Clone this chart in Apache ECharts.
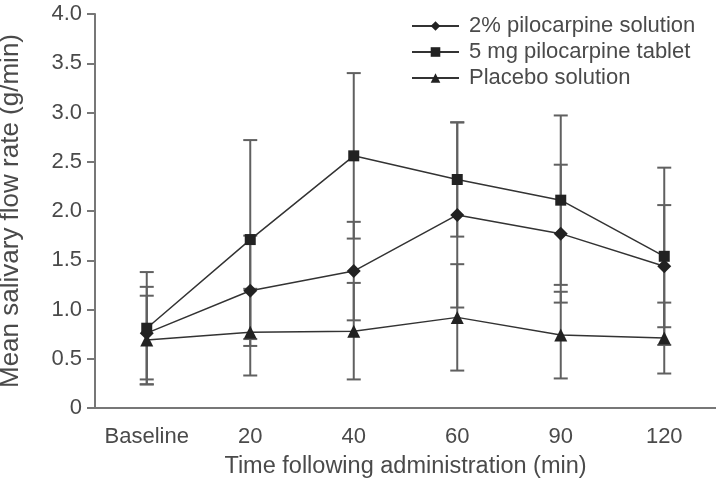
<!DOCTYPE html>
<html>
<head>
<meta charset="utf-8">
<style>
  html, body { margin: 0; padding: 0; background: #fff; }
  #main { width: 716px; height: 481px; }
</style>
<script src="https://cdn.jsdelivr.net/npm/echarts@6/dist/echarts.min.js"></script>
</head>
<body>
<div id="main"></div>
<script>
// 数据
var categories = ['Baseline', '20', '40', '60', '90', '120'];
var solutionMean = [0.76, 1.19, 1.39, 1.96, 1.77, 1.44];
var solutionErr = [0.47, 0.56, 0.50, 0.94, 0.70, 0.62];
var tabletMean = [0.81, 1.71, 2.56, 2.32, 2.11, 1.54];
var tabletErr = [0.57, 1.01, 0.84, 0.58, 0.86, 0.90];
var placeboMean = [0.69, 0.77, 0.78, 0.92, 0.74, 0.71];
var placeboErr = [0.45, 0.44, 0.49, 0.54, 0.44, 0.36];
var yTicks = [0, 0.5, 1.0, 1.5, 2.0, 2.5, 3.0, 3.5, 4.0];

var textColor = '#4a4a4a';
var font = 'Liberation Sans, Arial, sans-serif';

// 误差线数据 [index, low, high]
function errData(mean, err) {
    return mean.map(function (m, i) {
        return [i, m - err[i], m + err[i]];
    });
}

function errorSeries(mean, err) {
    return {
        type: 'custom',
        z: 1,
        silent: true,
        renderItem: function (params, api) {
            var top = api.coord([api.value(0), api.value(2)]);
            var bot = api.coord([api.value(0), api.value(1)]);
            var w = 7;
            var style = { stroke: '#606060', lineWidth: 2 };
            return {
                type: 'group',
                children: [
                    { type: 'line', shape: { x1: top[0], y1: top[1], x2: bot[0], y2: bot[1] }, style: style },
                    { type: 'line', shape: { x1: top[0] - w, y1: top[1], x2: top[0] + w, y2: top[1] }, style: style },
                    { type: 'line', shape: { x1: bot[0] - w, y1: bot[1], x2: bot[0] + w, y2: bot[1] }, style: style }
                ]
            };
        },
        encode: { x: 0, y: [1, 2] },
        data: errData(mean, err)
    };
}

function lineSeries(name, mean, symbol, size) {
    return {
        name: name,
        type: 'line',
        z: 3,
        data: mean,
        symbol: symbol,
        symbolSize: size,
        showAllSymbol: true,
        lineStyle: { color: '#333', width: 1.5 },
        itemStyle: { color: '#222' },
        emphasis: { disabled: true }
    };
}

var myChart = echarts.init(document.getElementById('main'));
myChart.setOption({
    animation: false,
    textStyle: { fontFamily: font },
    grid: { left: 95, top: 14, right: 0, bottom: 73, outerBoundsMode: 'none' },
    legend: {
        orient: 'vertical',
        left: 406,
        top: 10,
        itemWidth: 47,
        itemHeight: 12,
        itemGap: 4,
        textStyle: { fontSize: 22, color: textColor, fontFamily: font, padding: [0, 0, 0, 5] },
        data: ['2% pilocarpine solution', '5 mg pilocarpine tablet', 'Placebo solution']
    },
    xAxis: {
        type: 'category',
        data: categories,
        name: 'Time following administration (min)',
        nameLocation: 'middle',
        nameGap: 47,
        nameTextStyle: { fontSize: 23.5, color: textColor },
        axisLine: { lineStyle: { color: '#777', width: 2 } },
        axisTick: { length: 7, lineStyle: { color: '#777', width: 2 } },
        axisLabel: { interval: 0, fontSize: 22, color: textColor, margin: 18 }
    },
    yAxis: {
        type: 'value',
        min: 0,
        max: 4,
        interval: 0.5,
        name: 'Mean salivary flow rate (g/min)',
        nameLocation: 'middle',
        nameGap: 71,
        nameTextStyle: { fontSize: 26, color: textColor },
        axisLine: { show: true, lineStyle: { color: '#777', width: 2 } },
        axisTick: { show: true, length: 8, lineStyle: { color: '#777', width: 2 } },
        splitLine: { show: false },
        axisLabel: {
            fontSize: 22,
            color: textColor,
            margin: 13,
            formatter: function (v) {
                return yTicks.indexOf(v) === 0 ? '0' : v.toFixed(1);
            }
        }
    },
    series: [
        errorSeries(solutionMean, solutionErr),
        errorSeries(tabletMean, tabletErr),
        errorSeries(placeboMean, placeboErr),
        lineSeries('2% pilocarpine solution', solutionMean, 'diamond', 14),
        lineSeries('5 mg pilocarpine tablet', tabletMean, 'rect', 11),
        lineSeries('Placebo solution', placeboMean, 'triangle', 13)
    ]
});
</script>
</body>
</html>
